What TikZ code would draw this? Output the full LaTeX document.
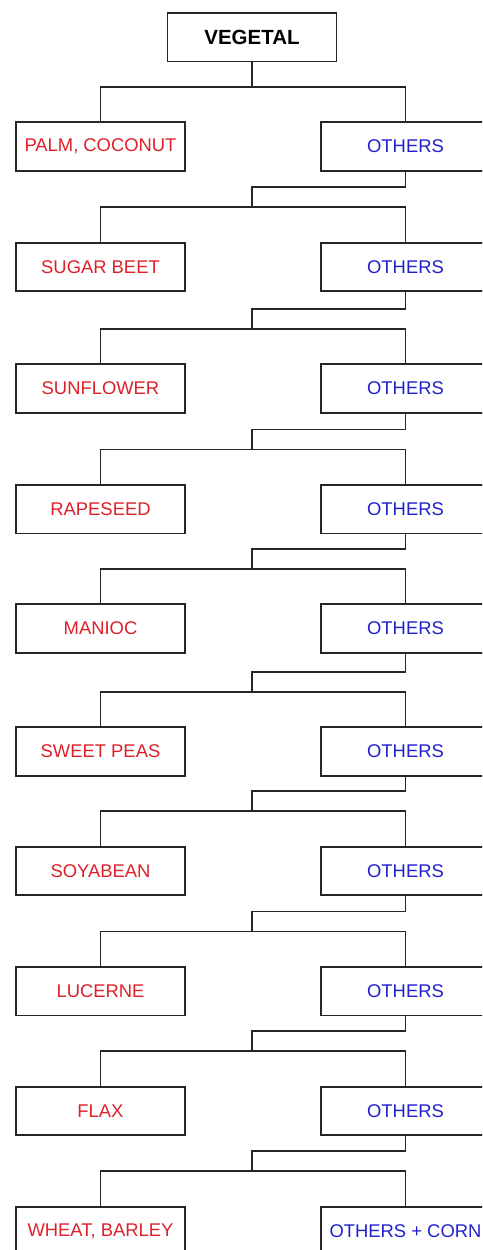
\documentclass[tikz,border=0pt]{standalone}
\usepackage{fontspec}
\setmainfont{Liberation Sans}
\definecolor{cropred}{RGB}{222,32,42}
\definecolor{restblue}{RGB}{32,32,205}
\tikzset{
  box/.style={draw=black!85, line width=1.8pt, minimum width=169pt,
    minimum height=48.5pt, inner sep=0pt, font=\fontsize{18.4}{22}\selectfont},
  crop/.style={box, text=cropred},
  rest/.style={box, text=restblue},
  link/.style={draw=black!85, line width=1.8pt},
}
\begin{document}
\begin{tikzpicture}[x=1pt,y=-1pt]
  \useasboundingbox (0,0) rectangle (482,1250);
  \clip (0,0) rectangle (482,1250);
  \fill[white] (0,0) rectangle (482,1250);

  % root
  \node[box, font=\bfseries\fontsize{20.5}{24}\selectfont] (root) at (252,37.3) {VEGETAL};

  % rows: left = named crop, right = remaining group
  \foreach \i/\t/\lab/\rlab in {
      1/122.3/{PALM, COCONUT}/OTHERS,
      2/242.7/SUGAR BEET/OTHERS,
      3/364.3/SUNFLOWER/OTHERS,
      4/485.0/RAPESEED/OTHERS,
      5/604.3/MANIOC/OTHERS,
      6/727.3/SWEET PEAS/OTHERS,
      7/846.7/SOYABEAN/OTHERS,
      8/967.0/LUCERNE/OTHERS,
      9/1086.7/FLAX/OTHERS,
      10/1206.7/{WHEAT, BARLEY}/{OTHERS + CORN}} {
    \node[crop] (L\i) at (100.5,{\t+24.25}) {\lab};
    \node[rest] (R\i) at (405.5,{\t+24.25}) {\rlab};
    \coordinate (j\i) at (252,{\t-35.5});
    \coordinate (s\i) at (252,{\t-55.5});
  }

  % connectors
  \draw[link] (root.south) -- (j1);
  \foreach \i in {1,...,10}
    \draw[link] (L\i.north) |- (j\i) -| (R\i.north);
  \foreach \i [count=\p from 1] in {2,...,10}
    \draw[link] (R\p.south) |- (s\i) -- (j\i);
\end{tikzpicture}
\end{document}
